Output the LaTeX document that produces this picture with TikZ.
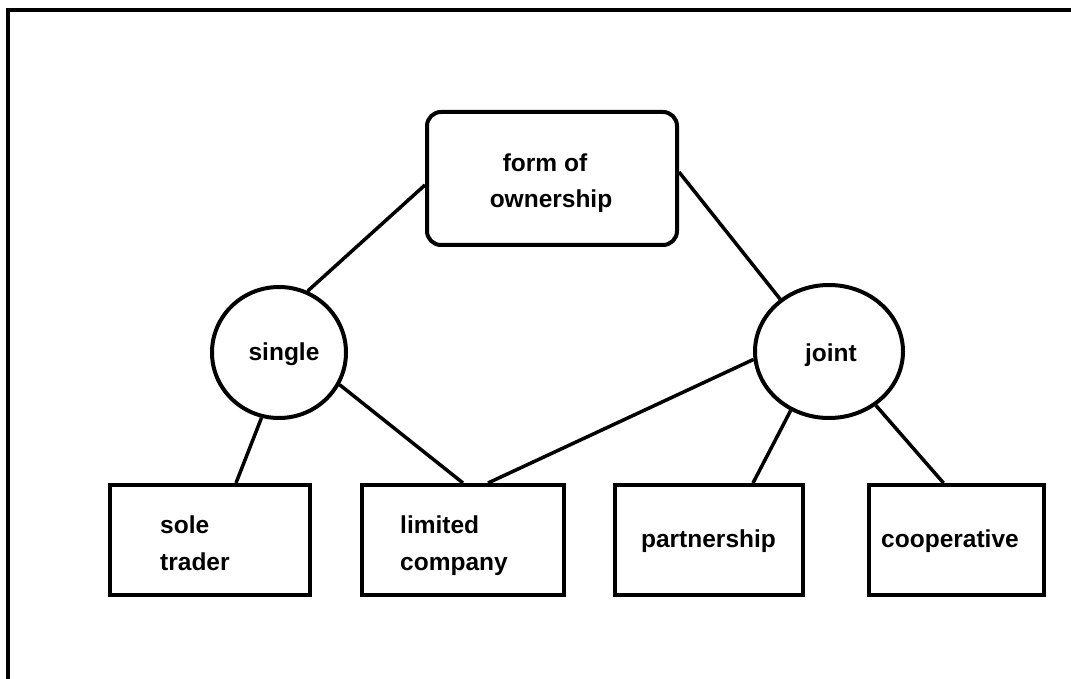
\documentclass[tikz,border=0pt]{standalone}
\usepackage{fontspec}
\setmainfont{Liberation Sans}
\usetikzlibrary{shapes.geometric}
\begin{document}
\begin{tikzpicture}[x=1pt,y=-1pt,
  shapeline/.style={draw=black,line width=4pt},
  rbox/.style={shapeline,rectangle,rounded corners=14pt,inner sep=0pt},
  sbox/.style={shapeline,rectangle,inner sep=0pt},
  circ/.style={shapeline,ellipse,inner sep=0pt},
  conn/.style={draw=black,line width=3.5pt},
  txt/.style={inner sep=0pt,font=\fontsize{24.5}{30}\selectfont\bfseries}]
\useasboundingbox (0,0) rectangle (1071,679);
% frame (only left and top edges visible)
\draw[line width=4pt] (8,690) -- (8,10) -- (1080,10);
% shapes
\node[rbox,minimum width=250pt,minimum height=133pt] (top) at (552,178.5) {};
\node[circ,minimum width=134pt,minimum height=131pt] (single) at (279,352.5) {};
\node[circ,minimum width=148pt,minimum height=133pt] (joint) at (829,351.5) {};
\node[sbox,minimum width=200pt,minimum height=110pt] (sole) at (210,540) {};
\node[sbox,minimum width=202pt,minimum height=110pt] (limited) at (463,540) {};
\node[sbox,minimum width=188pt,minimum height=110pt] (partner) at (709,540) {};
\node[sbox,minimum width=175pt,minimum height=110pt] (coop) at (956.5,540) {};
% texts
\node[txt,anchor=base] (t1) at (545,172) {form of};
\node[txt,anchor=base] (t2) at (551,208) {ownership};
\node[txt,anchor=base] (t3) at (284,360) {single};
\node[txt,anchor=base] (t4) at (831,361) {joint};
\node[txt,anchor=base west] (t5) at (160,533) {sole};
\node[txt,anchor=base west] (t6) at (160,570) {trader};
\node[txt,anchor=base west] (t7) at (400,533) {limited};
\node[txt,anchor=base west] (t8) at (400,570) {company};
\node[txt,anchor=base] (t9) at (708.5,547) {partnership};
\node[txt,anchor=base] (t10) at (950,547) {cooperative};
% connectors
\draw[conn] ([yshift=-6.5pt]top.west) -- (single.65);
\draw[conn] ([yshift=6.5pt]top.east) -- (joint.133);
\draw[conn] (single.-105) -- ([xshift=26pt]sole.north);
\draw[conn] (single.-28) -- (limited.north);
\draw[conn] (joint.186) -- ([xshift=25pt]limited.north);
\draw[conn] (joint.237) -- ([xshift=44pt]partner.north);
\draw[conn] (joint.311) -- ([xshift=-13pt]coop.north);
\end{tikzpicture}
\end{document}
